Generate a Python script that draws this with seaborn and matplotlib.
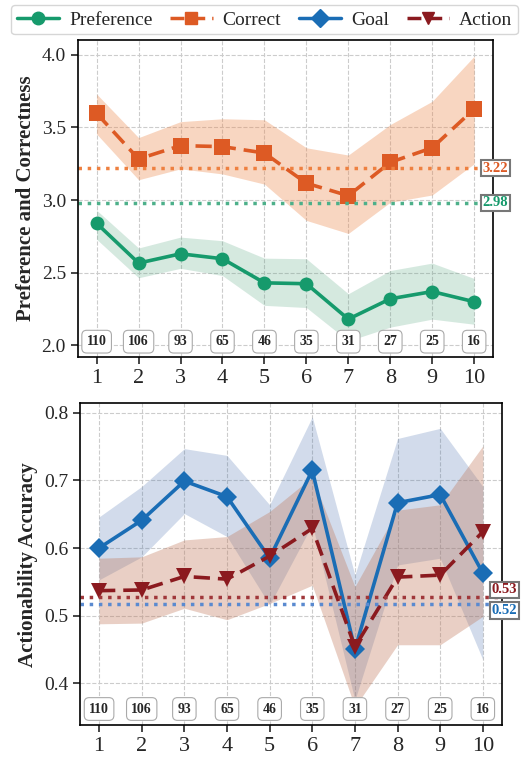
import matplotlib
matplotlib.use("Agg")
import matplotlib.pyplot as plt
import matplotlib.transforms as mtransforms
from matplotlib.lines import Line2D
import pandas as pd
import seaborn as sns

# Data
turns = list(range(1, 11))
counts = [110, 106, 93, 65, 46, 35, 31, 27, 25, 16]

pref = [2.84, 2.566, 2.63, 2.596, 2.43, 2.424, 2.18, 2.32, 2.37, 2.30]
pref_lo = [2.73, 2.465, 2.53, 2.48, 2.275, 2.26, 2.03, 2.125, 2.18, 2.145]
pref_hi = [2.93, 2.67, 2.745, 2.72, 2.60, 2.596, 2.355, 2.515, 2.566, 2.46]

correct = [3.597, 3.283, 3.375, 3.368, 3.324, 3.116, 3.03, 3.26, 3.36, 3.627]
correct_lo = [3.455, 3.14, 3.215, 3.18, 3.11, 2.86, 2.77, 2.985, 3.035, 3.25]
correct_hi = [3.73, 3.43, 3.54, 3.56, 3.553, 3.36, 3.31, 3.52, 3.68, 3.99]

goal = [0.60, 0.641, 0.699, 0.676, 0.585, 0.715, 0.45, 0.667, 0.679, 0.563]
goal_lo = [0.553, 0.587, 0.651, 0.617, 0.516, 0.635, 0.375, 0.575, 0.585, 0.435]
goal_hi = [0.646, 0.691, 0.747, 0.737, 0.664, 0.794, 0.56, 0.762, 0.777, 0.691]

action = [0.537, 0.538, 0.558, 0.554, 0.588, 0.629, 0.454, 0.557, 0.56, 0.624]
action_lo = [0.488, 0.489, 0.511, 0.494, 0.518, 0.545, 0.365, 0.457, 0.457, 0.499]
action_hi = [0.585, 0.587, 0.612, 0.617, 0.654, 0.705, 0.543, 0.656, 0.664, 0.751]

pref_mean, correct_mean = 2.98, 3.22
goal_mean, action_mean = 0.52, 0.53

sns.set_theme(style="ticks")
plt.rcParams["font.family"] = ["Liberation Serif", "DejaVu Serif"]
plt.rcParams["mathtext.fontset"] = "stix"

df_top = pd.DataFrame({"turn": turns, "pref": pref, "correct": correct})
df_bot = pd.DataFrame({"turn": turns, "goal": goal, "action": action})

fig = plt.figure(figsize=(5.29, 7.61), dpi=100)
ax1 = fig.add_axes([0.147, 0.531, 0.785, 0.416])
ax2 = fig.add_axes([0.151, 0.047, 0.798, 0.423])

c_pref, c_corr = "#169a6c", "#dd5a24"
c_goal, c_act = "#1a6db5", "#8b1a1f"


def style_axis(ax):
    ax.grid(True, linestyle="--", linewidth=0.8, color="#cccccc")
    ax.set_xlim(0.55, 10.45)
    ax.set_xticks(turns)
    ax.tick_params(axis="x", labelsize=16, length=5, width=1.2)
    ax.tick_params(axis="y", labelsize=14, length=5, width=1.2)
    ax.set_xlabel("")
    for s in ax.spines.values():
        s.set_linewidth(1.2)
        s.set_color("black")


def mean_label(ax, y, text, color, dy=0.0):
    trans = mtransforms.blended_transform_factory(ax.transAxes, ax.transData)
    ax.text(1.005, y + dy, text, transform=trans, ha="center", va="center",
            fontsize=10.5, fontweight="bold", color=color, clip_on=False,
            bbox=dict(boxstyle="square,pad=0.12", fc="white", ec="#777777", lw=1.5))


def count_boxes(ax, y):
    for t, n in zip(turns, counts):
        ax.text(t, y, str(n), ha="center", va="center", fontsize=10, fontweight="bold",
                bbox=dict(boxstyle="round,pad=0.35", fc="white", ec="#aaaaaa", lw=0.8))


# top panel
ax1.fill_between(turns, correct_lo, correct_hi, color="#ed8a4e", alpha=0.35, lw=0)
ax1.fill_between(turns, pref_lo, pref_hi, color="#5aa883", alpha=0.25, lw=0)
sns.lineplot(data=df_top, x="turn", y="correct", ax=ax1, color=c_corr, marker="s",
             markersize=11, linewidth=2.6, linestyle=(0, (4.5, 2.2)), markeredgewidth=0)
sns.lineplot(data=df_top, x="turn", y="pref", ax=ax1, color=c_pref, marker="o",
             markersize=10, linewidth=2.6, markeredgewidth=0)
ax1.axhline(correct_mean, color="#ee8040", linestyle=":", linewidth=2.5)
ax1.axhline(pref_mean, color="#4db08a", linestyle=":", linewidth=2.5)
style_axis(ax1)
ax1.set_ylim(1.92, 4.1)
ax1.set_yticks([2.0, 2.5, 3.0, 3.5, 4.0])
ax1.set_ylabel("Preference and Correctness", fontsize=15, fontweight="bold")
mean_label(ax1, correct_mean, f"{correct_mean:.2f}", c_corr)
mean_label(ax1, pref_mean, f"{pref_mean:.2f}", c_pref)
count_boxes(ax1, 2.025)

# bottom panel
ax2.fill_between(turns, goal_lo, goal_hi, color="#4c72b0", alpha=0.25, lw=0)
ax2.fill_between(turns, action_lo, action_hi, color="#c0785a", alpha=0.35, lw=0)
sns.lineplot(data=df_bot, x="turn", y="goal", ax=ax2, color=c_goal, marker="D",
             markersize=10, linewidth=2.6, markeredgewidth=0)
sns.lineplot(data=df_bot, x="turn", y="action", ax=ax2, color=c_act, marker="v",
             markersize=11, linewidth=2.6, linestyle=(0, (4.5, 2.2)), markeredgewidth=0)
ax2.axhline(action_mean - 0.003, color="#a0373a", linestyle=":", linewidth=2.5)
ax2.axhline(goal_mean - 0.002, color="#5a8ad0", linestyle=":", linewidth=2.5)
style_axis(ax2)
ax2.set_ylim(0.338, 0.814)
ax2.set_yticks([0.4, 0.5, 0.6, 0.7, 0.8])
ax2.set_ylabel("Actionability Accuracy", fontsize=15, fontweight="bold")
mean_label(ax2, action_mean, f"{action_mean:.2f}", c_act, dy=0.008)
mean_label(ax2, goal_mean, f"{goal_mean:.2f}", c_goal, dy=-0.012)
count_boxes(ax2, 0.362)

handles = [
    Line2D([], [], color=c_pref, marker="o", markersize=9, lw=2.5, label="Preference"),
    Line2D([], [], color=c_corr, marker="s", markersize=9, lw=2.5, linestyle=(0, (4, 2)), label="Correct"),
    Line2D([], [], color=c_goal, marker="D", markersize=9, lw=2.5, label="Goal"),
    Line2D([], [], color=c_act, marker="v", markersize=9, lw=2.5, linestyle=(0, (4, 2)), label="Action"),
]
fig.legend(handles=handles, loc="upper center", bbox_to_anchor=(0.5, 1.006), ncol=4,
           fontsize=14, frameon=True, fancybox=True, edgecolor="#cccccc",
           handlelength=2.2, columnspacing=0.9, handletextpad=0.5, borderpad=0.3)

fig.savefig("out.png", dpi=100)
